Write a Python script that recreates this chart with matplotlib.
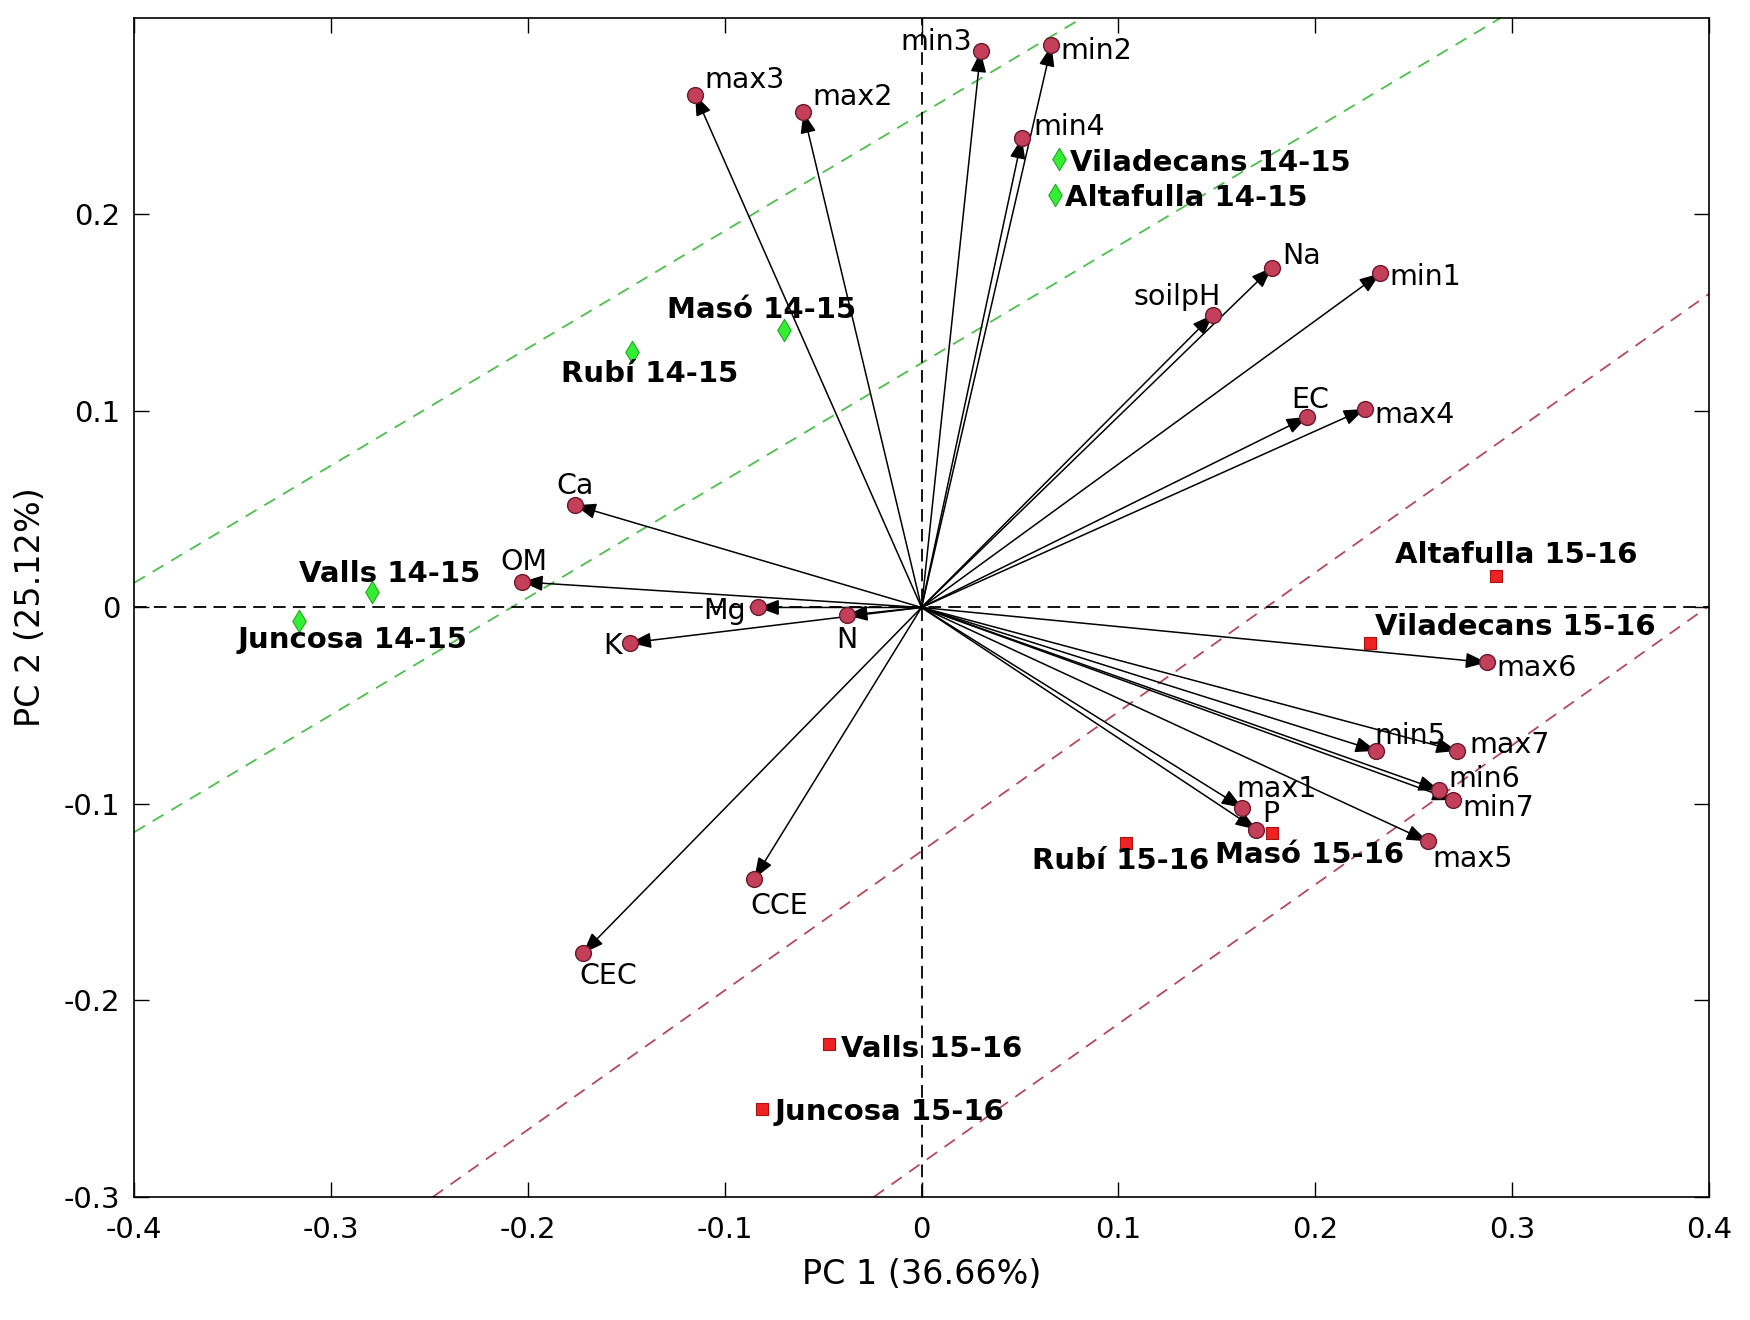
import numpy as np
import matplotlib
matplotlib.use("Agg")
import matplotlib.pyplot as plt

plt.rcParams.update({"font.family": "DejaVu Sans", "font.size": 20})

# ── Data ──────────────────────────────────────────────────────────────────────

VAR_NAMES = ["max3", "max2", "min3", "min2", "min4", "Na", "min1", "soilpH",
             "EC", "max4", "Ca", "OM", "Mg", "N", "K", "CCE", "CEC",
             "max6", "min5", "max7", "min6", "min7", "max1", "P", "max5"]
VAR_PC1 = [-0.115, -0.060, 0.030, 0.066, 0.051, 0.178, 0.233, 0.148,
           0.196, 0.225, -0.176, -0.203, -0.083, -0.038, -0.148, -0.085, -0.172,
           0.287, 0.231, 0.272, 0.263, 0.270, 0.163, 0.170, 0.257]
VAR_PC2 = [0.261, 0.252, 0.283, 0.286, 0.239, 0.173, 0.170, 0.149,
           0.097, 0.101, 0.052, 0.013, 0.000, -0.004, -0.018, -0.138, -0.176,
           -0.028, -0.073, -0.073, -0.093, -0.098, -0.102, -0.113, -0.119]

SITE_NAMES = ["Masó 14-15", "Rubí 14-15", "Valls 14-15", "Juncosa 14-15",
              "Viladecans 14-15", "Altafulla 14-15",
              "Altafulla 15-16", "Viladecans 15-16", "Rubí 15-16", "Masó 15-16",
              "Valls 15-16", "Juncosa 15-16"]
SITE_PC1 = [-0.070, -0.147, -0.279, -0.316, 0.070, 0.068,
            0.292, 0.228, 0.104, 0.178, -0.047, -0.081]
SITE_PC2 = [0.141, 0.130, 0.008, -0.007, 0.228, 0.210,
            0.016, -0.018, -0.120, -0.115, -0.222, -0.255]
SITE_SEASON = ["14-15"] * 6 + ["15-16"] * 6

# separating bands (y = slope * x + intercept)
GREEN_SLOPE = 0.597
GREEN_INTERCEPTS = [0.2513, 0.1244]
RED_SLOPE = 0.709
RED_INTERCEPTS = [-0.124, -0.2828]

# ── Label layout (offset pixels, alignment) ───────────────────────────────────

VAR_LABEL_POS = {
    "max3": (9, 15, "left"), "max2": (9, 15, "left"), "min3": (-9, 9, "right"),
    "min2": (9, -6, "left"), "min4": (11, 11, "left"), "Na": (10, 12, "left"),
    "min1": (9, -4, "left"), "soilpH": (8, 18, "right"), "EC": (3, 17, "center"),
    "max4": (10, -6, "left"), "Ca": (0, 19, "center"), "OM": (2, 20, "center"),
    "Mg": (-12, -4, "right"), "N": (0, -25, "center"), "K": (-8, -3, "right"),
    "CCE": (-4, -27, "left"), "CEC": (-4, -23, "left"), "max6": (10, -6, "left"),
    "min5": (-2, 15, "left"), "max7": (12, 6, "left"), "min6": (9, 11, "left"),
    "min7": (9, -8, "left"), "max1": (-6, 19, "left"), "P": (15, 16, "center"),
    "max5": (5, -18, "left"),
}
SITE_LABEL_POS = {
    "Masó 14-15": (-22, 20, "center"), "Rubí 14-15": (17, -22, "center"),
    "Valls 14-15": (17, 18, "center"), "Juncosa 14-15": (53, -19, "center"),
    "Viladecans 14-15": (11, -4, "left"), "Altafulla 14-15": (10, -3, "left"),
    "Altafulla 15-16": (20, 21, "center"), "Viladecans 15-16": (5, 16, "left"),
    "Rubí 15-16": (-6, -18, "center"), "Masó 15-16": (38, -22, "center"),
    "Valls 15-16": (12, -5, "left"), "Juncosa 15-16": (12, -3, "left"),
}

C_GREEN_LINE = "#4cbf4c"
C_RED_LINE = "#b5485a"
C_VAR = "#c4405a"

# ── Plot ──────────────────────────────────────────────────────────────────────

fig = plt.figure(figsize=(17.5, 13.2), dpi=100)
ax = fig.add_axes([0.0766, 0.0932, 0.900, 0.8932])

for b in GREEN_INTERCEPTS:
    ax.axline((0, b), slope=GREEN_SLOPE, color=C_GREEN_LINE, lw=1.3,
              ls=(0, (7, 5)), zorder=1)
for b in RED_INTERCEPTS:
    ax.axline((0, b), slope=RED_SLOPE, color=C_RED_LINE, lw=1.3,
              ls=(0, (7, 5)), zorder=1)

ax.axhline(0, color="black", lw=1.3, ls=(0, (7, 4)), zorder=1)
ax.axvline(0, color="black", lw=1.3, ls=(0, (7, 4)), zorder=1)

for name, x, y in zip(VAR_NAMES, VAR_PC1, VAR_PC2):
    ax.annotate("", xy=(x, y), xytext=(0, 0),
                arrowprops=dict(arrowstyle="-|>,head_length=0.8,head_width=0.3",
                                color="black", lw=1.1, shrinkA=0, shrinkB=0,
                                mutation_scale=16),
                zorder=3)
ax.scatter(VAR_PC1, VAR_PC2, s=130, c=C_VAR, edgecolors="#6a1a28",
           linewidths=1.0, zorder=4)
for name, x, y in zip(VAR_NAMES, VAR_PC1, VAR_PC2):
    dx, dy, ha = VAR_LABEL_POS[name]
    ax.annotate(name, xy=(x, y), xytext=(dx, dy), textcoords="offset pixels",
                ha=ha, va="center", fontsize=20.5, zorder=5)

site_pc1 = np.array(SITE_PC1)
site_pc2 = np.array(SITE_PC2)
season = np.array(SITE_SEASON)
m14 = season == "14-15"
ax.scatter(site_pc1[m14], site_pc2[m14], marker="d", s=130, c="#33ee33",
           edgecolors="#22aa22", linewidths=0.8, zorder=4)
ax.scatter(site_pc1[~m14], site_pc2[~m14], marker="s", s=80, c="#ee2222",
           edgecolors="#aa1111", linewidths=0.8, zorder=4)
for name, x, y in zip(SITE_NAMES, SITE_PC1, SITE_PC2):
    dx, dy, ha = SITE_LABEL_POS[name]
    ax.annotate(name, xy=(x, y), xytext=(dx, dy), textcoords="offset pixels",
                ha=ha, va="center", fontsize=21, fontweight="bold", zorder=5)

ax.set_xlim(-0.4, 0.4)
ax.set_ylim(-0.3, 0.3)
ax.set_xticks(np.arange(-0.4, 0.41, 0.1))
ax.set_yticks(np.arange(-0.3, 0.21, 0.1))
ax.set_xticklabels(["-0.4", "-0.3", "-0.2", "-0.1", "0", "0.1", "0.2", "0.3", "0.4"])
ax.set_yticklabels(["-0.3", "-0.2", "-0.1", "0", "0.1", "0.2"])
ax.tick_params(direction="in", length=11, width=1.0, top=True, right=True,
               labelsize=21)
ax.tick_params(axis="x", pad=14)
ax.tick_params(axis="y", pad=10)
for sp in ax.spines.values():
    sp.set_linewidth(1.2)

ax.set_xlabel("PC 1 (36.66%)", fontsize=24, labelpad=10)
ax.set_ylabel("PC 2 (25.12%)", fontsize=24, labelpad=12)

fig.savefig("out.png", dpi=100)
